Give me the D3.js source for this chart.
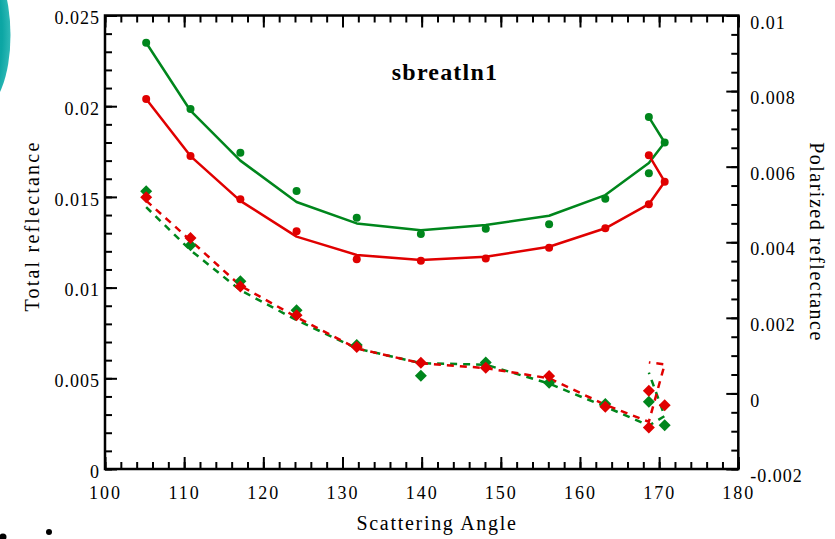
<!DOCTYPE html>
<html>
<head>
<meta charset="utf-8">
<script src="https://cdn.jsdelivr.net/npm/d3@7"></script>
<style>
  html, body { margin: 0; padding: 0; background: #fff; }
  svg { display: block; }
  text { font-family: "Liberation Serif", "Times New Roman", serif; fill: #000; }
</style>
</head>
<body>
<svg id="chart" width="835" height="539"></svg>
<script>
// Scattering angles, in plotting order (the last angle returns to 168.7)
const angles = [105.2, 110.8, 117.1, 124.2, 131.8, 139.9, 148.1, 156.1, 163.2, 168.7, 170.7, 168.7];

// Total reflectance (left axis): measured points and model curves
const totalGreenMeas  = [0.0235, 0.01985, 0.01744, 0.01533, 0.01385, 0.01295, 0.01325, 0.01349, 0.0149, 0.0163, 0.0180, 0.0194];
const totalGreenModel = [0.0235, 0.01975, 0.0170, 0.01472, 0.01354, 0.01316, 0.01345, 0.01396, 0.0151, 0.01687, 0.0180, 0.0194];
const totalRedMeas    = [0.0204, 0.01725, 0.01487, 0.0131, 0.01156, 0.01148, 0.0116, 0.0122, 0.01327, 0.0146, 0.01584, 0.0173];
const totalRedModel   = [0.0204, 0.01725, 0.01478, 0.01281, 0.0118, 0.01152, 0.0117, 0.01225, 0.01327, 0.0146, 0.01584, 0.0173];

// Polarized reflectance (right axis): measured points and model curves
const polGreenMeas  = [0.00535, 0.00392, 0.00297, 0.0022, 0.00128, 0.00047, 0.00082, 0.00028, -0.00028, -0.00022, -0.00084, null];
const polGreenModel = [0.00493, 0.00379, 0.00273, 0.00194, 0.00119, 0.0008, 0.00076, 0.00026, -0.00035, -0.00085, -0.0006, 0.00055];
const polRedMeas    = [0.00519, 0.00411, 0.00283, 0.00207, 0.00123, 0.00081, 0.00068, 0.00046, -0.00035, -0.0009, -0.00031, 0.00007];
const polRedModel   = [0.0051, 0.00405, 0.00285, 0.00202, 0.00119, 0.0008, 0.00067, 0.0004, -0.0003, -0.00075, 0.00077, 0.00082];

// Axis ticks and labels
const xTicks = [100, 110, 120, 130, 140, 150, 160, 170, 180];
const xLabels = ["100", "110", "120", "130", "140", "150", "160", "170", "180"];
const leftTicks = [0, 0.005, 0.01, 0.015, 0.02, 0.025];
const leftLabels = ["0", "0.005", "0.01", "0.015", "0.02", "0.025"];
const rightTicks = [-0.002, 0, 0.002, 0.004, 0.006, 0.008, 0.01];
const rightLabels = ["-0.002", "0", "0.002", "0.004", "0.006", "0.008", "0.01"];

const chartTitle = "sbreatln1";
const xTitle = "Scattering Angle";
const leftTitle = "Total reflectance";
const rightTitle = "Polarized reflectance";

const GREEN = "#00861c";
const RED = "#e00000";

const svg = d3.select("#chart");

// Decorative shapes at the page edges
const grad = svg.append("defs").append("radialGradient")
  .attr("id", "tealGrad").attr("cx", "0.3").attr("cy", "0.5").attr("r", "0.75");
grad.append("stop").attr("offset", "0%").attr("stop-color", "#069a9a");
grad.append("stop").attr("offset", "75%").attr("stop-color", "#0ca6a4");
grad.append("stop").attr("offset", "100%").attr("stop-color", "#3cc0be");
svg.append("ellipse").attr("cx", -19.5).attr("cy", 35).attr("rx", 30).attr("ry", 75)
  .attr("fill", "url(#tealGrad)");
svg.append("circle").attr("cx", 3).attr("cy", 537).attr("r", 3.5).attr("fill", "#000");
svg.append("circle").attr("cx", 49).attr("cy", 532).attr("r", 3).attr("fill", "#000");

// Plot area
const pLeft = 105, pRight = 738.3, pTop = 15.5, pBottom = 469;
const x = d3.scaleLinear().domain([100, 180]).range([pLeft, pRight]);
const yL = d3.scaleLinear().domain([0, 0.025]).range([pBottom, pTop]);
const yR = d3.scaleLinear().domain([-0.002, 0.01]).range([pBottom, pTop]);

function styleAxis(g) {
  g.select(".domain").remove();
  g.selectAll(".tick line").attr("stroke", "#000").attr("stroke-width", 2);
}

// Minor ticks (no labels)
const xMinor = d3.range(100, 181, 2);
const lMinor = d3.range(0, 0.02501, 0.001);
const rMinor = d3.range(-0.002, 0.01001, 0.0005);

svg.append("g").attr("transform", `translate(0,${pBottom})`)
  .call(d3.axisBottom(x).tickValues(xMinor).tickSize(-7).tickFormat(""))
  .call(styleAxis);
svg.append("g").attr("transform", `translate(0,${pTop})`)
  .call(d3.axisTop(x).tickValues(xMinor).tickSize(-7).tickFormat(""))
  .call(styleAxis);
svg.append("g").attr("transform", `translate(${pLeft},0)`)
  .call(d3.axisLeft(yL).tickValues(lMinor).tickSize(-7).tickFormat(""))
  .call(styleAxis);
svg.append("g").attr("transform", `translate(${pRight},0)`)
  .call(d3.axisRight(yR).tickValues(rMinor).tickSize(-7).tickFormat(""))
  .call(styleAxis);

// Major ticks with labels
const fontTick = 18;
svg.append("g").attr("transform", `translate(0,${pBottom})`)
  .call(d3.axisBottom(x).tickValues(xTicks).tickSize(-12)
    .tickFormat((d, i) => xLabels[i]))
  .call(styleAxis)
  .call(g => g.selectAll("text").attr("font-size", fontTick).attr("letter-spacing", 2)
    .attr("dy", "0.71em").attr("y", 17));
svg.append("g").attr("transform", `translate(0,${pTop})`)
  .call(d3.axisTop(x).tickValues(xTicks).tickSize(-12).tickFormat(""))
  .call(styleAxis);
svg.append("g").attr("transform", `translate(${pLeft},0)`)
  .call(d3.axisLeft(yL).tickValues(leftTicks).tickSize(-12)
    .tickFormat((d, i) => leftLabels[i]))
  .call(styleAxis)
  .call(g => g.selectAll("text").attr("font-size", fontTick).attr("letter-spacing", 1)
    .attr("x", -5).attr("dy", "0.45em"));
svg.append("g").attr("transform", `translate(${pRight},0)`)
  .call(d3.axisRight(yR).tickValues(rightTicks).tickSize(-12)
    .tickFormat((d, i) => rightLabels[i]))
  .call(styleAxis)
  .call(g => g.selectAll("text").attr("font-size", fontTick).attr("letter-spacing", 1)
    .attr("x", 12).attr("dy", "0.7em"));

// Frame
svg.append("rect").attr("x", pLeft).attr("y", pTop)
  .attr("width", pRight - pLeft).attr("height", pBottom - pTop)
  .attr("fill", "none").attr("stroke", "#000").attr("stroke-width", 2.5);

// Series
const series = [
  { meas: totalGreenMeas, model: totalGreenModel, y: yL, color: GREEN, dashed: false, marker: "circle" },
  { meas: totalRedMeas,   model: totalRedModel,   y: yL, color: RED,   dashed: false, marker: "circle" },
  { meas: polGreenMeas,   model: polGreenModel,   y: yR, color: GREEN, dashed: true,  marker: "diamond" },
  { meas: polRedMeas,     model: polRedModel,     y: yR, color: RED,   dashed: true,  marker: "diamond" }
];

const plot = svg.append("g");
series.forEach(s => {
  const line = d3.line()
    .x((d, i) => x(angles[i]))
    .y(d => s.y(d));
  plot.append("path").datum(s.model)
    .attr("d", line)
    .attr("fill", "none")
    .attr("stroke", s.color)
    .attr("stroke-width", 2.5)
    .attr("stroke-linejoin", "round")
    .attr("stroke-dasharray", s.dashed ? "7,6" : null);
});
series.forEach(s => {
  const pts = s.meas.map((v, i) => ({ a: angles[i], v })).filter(p => p.v !== null);
  if (s.marker === "circle") {
    plot.append("g").selectAll("circle").data(pts).join("circle")
      .attr("cx", p => x(p.a)).attr("cy", p => s.y(p.v)).attr("r", 4)
      .attr("fill", s.color);
  } else {
    const sym = d3.symbol().type(d3.symbolSquare).size(72);
    plot.append("g").selectAll("path").data(pts).join("path")
      .attr("d", sym)
      .attr("transform", p => `translate(${x(p.a)},${s.y(p.v)}) rotate(45)`)
      .attr("fill", s.color);
  }
});

// Titles
svg.append("text").attr("x", 445).attr("y", 80).attr("text-anchor", "middle")
  .attr("font-size", 24).attr("font-weight", "bold").attr("letter-spacing", 1.2)
  .text(chartTitle);
svg.append("text").attr("x", 437).attr("y", 530).attr("text-anchor", "middle")
  .attr("font-size", 20).attr("letter-spacing", 1.7)
  .text(xTitle);
svg.append("text").attr("transform", "translate(39,226) rotate(-90)")
  .attr("text-anchor", "middle").attr("font-size", 20).attr("letter-spacing", 2.2)
  .text(leftTitle);
svg.append("text").attr("transform", "translate(810,242) rotate(90)")
  .attr("text-anchor", "middle").attr("font-size", 20).attr("letter-spacing", 1.5)
  .text(rightTitle);
</script>
</body>
</html>
